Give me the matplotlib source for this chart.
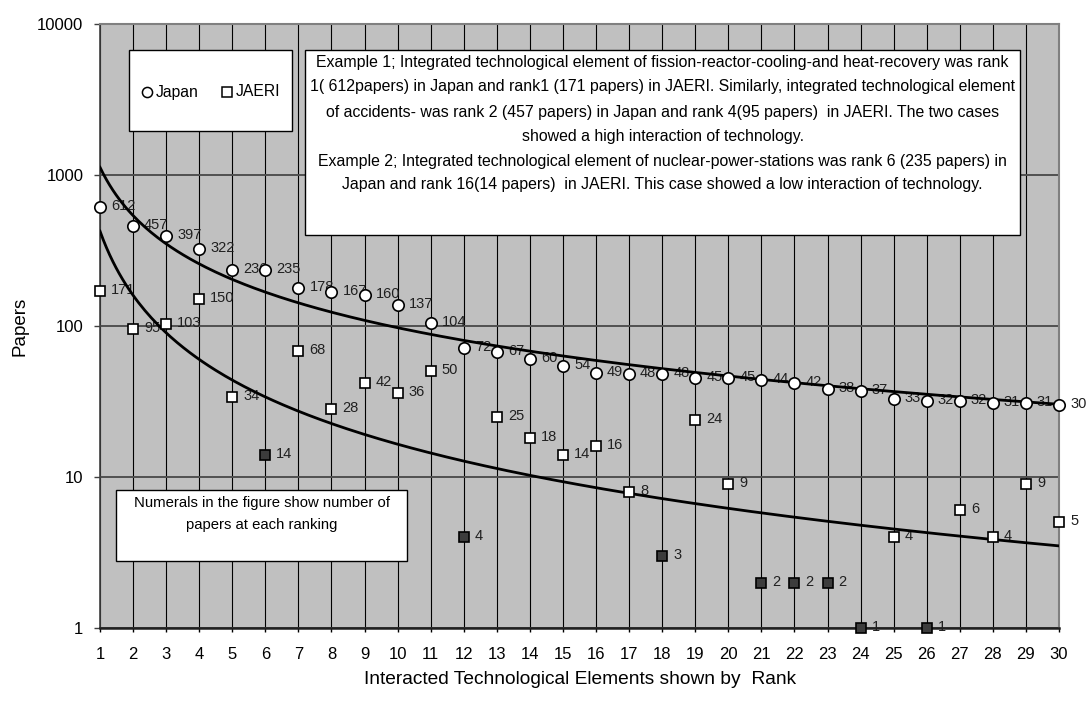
import numpy as np
import matplotlib
matplotlib.use("Agg")
import matplotlib.pyplot as plt
from matplotlib.patches import Rectangle
from matplotlib import font_manager

# ---------------- data ----------------
ranks = list(range(1, 31))
japan_papers = [612, 457, 397, 322, 236, 235, 178, 167, 160, 137,
                104, 72, 67, 60, 54, 49, 48, 48, 45, 45,
                44, 42, 38, 37, 33, 32, 32, 31, 31, 30]
jaeri_papers = [171, 95, 103, 150, 34, 14, 68, 28, 42, 36,
                50, 4, 25, 18, 14, 16, 8, 3, 24, 9,
                2, 2, 2, 1, 4, 1, 6, 4, 9, 5]
jaeri_dark_ranks = [6, 12, 18, 21, 22, 23, 24, 26]
y_tick_values = [1, 10, 100, 1000, 10000]
y_tick_labels = ["1", "10", "100", "1000", "10000"]

example_lines = [
    "Example 1; Integrated technological element of fission-reactor-cooling-and heat-recovery was rank",
    "1( 612papers) in Japan and rank1 (171 papers) in JAERI. Similarly, integrated technological element",
    "of accidents- was rank 2 (457 papers) in Japan and rank 4(95 papers)  in JAERI. The two cases",
    "showed a high interaction of technology.",
    "Example 2; Integrated technological element of nuclear-power-stations was rank 6 (235 papers) in",
    "Japan and rank 16(14 papers)  in JAERI. This case showed a low interaction of technology.",
]
note_lines = ["Numerals in the figure show number of", "papers at each ranking"]

# ---------------- fonts ----------------
names = {f.name for f in font_manager.fontManager.ttflist}
fam = [f for f in ["Liberation Sans Narrow", "Liberation Sans", "DejaVu Sans"] if f in names]
plt.rcParams["font.family"] = fam

# ---------------- figure ----------------
W, H = 1088, 702
fig = plt.figure(figsize=(W / 100, H / 100), dpi=100)
L, R, T, B = 100, 1059, 24, 628
ax = fig.add_axes([L / W, 1 - B / H, (R - L) / W, (B - T) / H])
ax.set_facecolor("#c0c0c0")
ax.set_yscale("log")
ax.set_xlim(1, 30)
ax.set_ylim(1, 10000)

ax.set_xticks(ranks)
ax.set_xticklabels([str(r) for r in ranks], fontsize=12)
ax.set_yticks(y_tick_values)
ax.set_yticklabels(y_tick_labels, fontsize=12)
ax.yaxis.set_minor_locator(matplotlib.ticker.NullLocator())
ax.tick_params(axis="x", direction="out", length=3, width=1, pad=11, color="black")
ax.tick_params(axis="y", direction="out", length=4, width=1, pad=8, color="#404040")

ax.grid(axis="x", color="black", lw=0.8, zorder=1)
ax.grid(axis="y", color="#505050", lw=1.4, zorder=1)
ax.set_axisbelow(True)

for s in ["top", "right"]:
    ax.spines[s].set_color("#808080")
    ax.spines[s].set_linewidth(1.5)
ax.spines["left"].set_color("#404040")
ax.spines["left"].set_linewidth(1.2)
ax.spines["bottom"].set_color("#202020")
ax.spines["bottom"].set_linewidth(1.8)

# ---------------- power-law trend lines (log-log least squares) ----------------
xr = np.array(ranks, dtype=float)
xs = np.linspace(1, 30, 300)
for vals in (japan_papers, jaeri_papers):
    b, a = np.polyfit(np.log(xr), np.log(np.array(vals, dtype=float)), 1)
    ax.plot(xs, np.exp(a) * xs ** b, color="black", lw=2.0, zorder=4)

# ---------------- markers ----------------
ax.plot(ranks, japan_papers, linestyle="none", marker="o", ms=8.2,
        mfc="white", mec="black", mew=1.2, zorder=5, clip_on=False)
light = [(r, v) for r, v in zip(ranks, jaeri_papers) if r not in jaeri_dark_ranks]
dark = [(r, v) for r, v in zip(ranks, jaeri_papers) if r in jaeri_dark_ranks]
ax.plot([p[0] for p in light], [p[1] for p in light], linestyle="none", marker="s",
        ms=7.5, mfc="white", mec="black", mew=1.2, zorder=5, clip_on=False)
ax.plot([p[0] for p in dark], [p[1] for p in dark], linestyle="none", marker="s",
        ms=7.5, mfc="#3c3c3c", mec="black", mew=1.2, zorder=5, clip_on=False)

# ---------------- value labels ----------------
for series in (japan_papers, jaeri_papers):
    for r, v in zip(ranks, series):
        ax.annotate(str(v), (r, v), xytext=(11, 1), textcoords="offset pixels",
                    ha="left", va="center", fontsize=10.5, color="#202020",
                    zorder=3, annotation_clip=False)


def px_to_ax(x, y):
    return (x - L) / (R - L), (B - y) / (B - T)


def box(x0, y0, x1, y1):
    ax0, ay1 = px_to_ax(x0, y0)
    ax1, ay0 = px_to_ax(x1, y1)
    ax.add_patch(Rectangle((ax0, ay0), ax1 - ax0, ay1 - ay0, transform=ax.transAxes,
                           facecolor="white", edgecolor="black", lw=1.0, zorder=6))


# example box
box(305, 50, 1020, 235)
example_y = [63, 87, 112, 137, 162, 185]
for line, yy in zip(example_lines, example_y):
    tx, ty = px_to_ax(662.5, yy)
    ax.text(tx, ty, line, transform=ax.transAxes, ha="center", va="center",
            fontsize=11.4, zorder=7)

# legend box
box(129, 50, 292, 131)
lx, ly = px_to_ax(147, 92)
ax.plot([lx], [ly], transform=ax.transAxes, marker="o", ms=7.3, mfc="white",
        mec="black", mew=1.1, linestyle="none", zorder=7, clip_on=False)
tx, ty = px_to_ax(156, 92)
ax.text(tx, ty, "Japan", transform=ax.transAxes, ha="left", va="center",
        fontsize=11.3, zorder=7)
lx, ly = px_to_ax(227, 92)
ax.plot([lx], [ly], transform=ax.transAxes, marker="s", ms=7, mfc="white",
        mec="black", mew=1.1, linestyle="none", zorder=7, clip_on=False)
tx, ty = px_to_ax(236, 92)
ax.text(tx, ty, "JAERI", transform=ax.transAxes, ha="left", va="center",
        fontsize=11.3, zorder=7)

# note box
box(116, 490, 407, 561)
for line, yy in zip(note_lines, [503, 525]):
    tx, ty = px_to_ax(261.5, yy)
    ax.text(tx, ty, line, transform=ax.transAxes, ha="center", va="center",
            fontsize=10.7, zorder=7)

# axis labels
fig.text(20 / W, 1 - 326 / H, "Papers", rotation=90, ha="center", va="center",
         fontsize=13.5)
fig.text(580 / W, 1 - 679 / H, "Interacted Technological Elements shown by  Rank",
         ha="center", va="center", fontsize=13.8)

fig.savefig("out.png", dpi=100)
